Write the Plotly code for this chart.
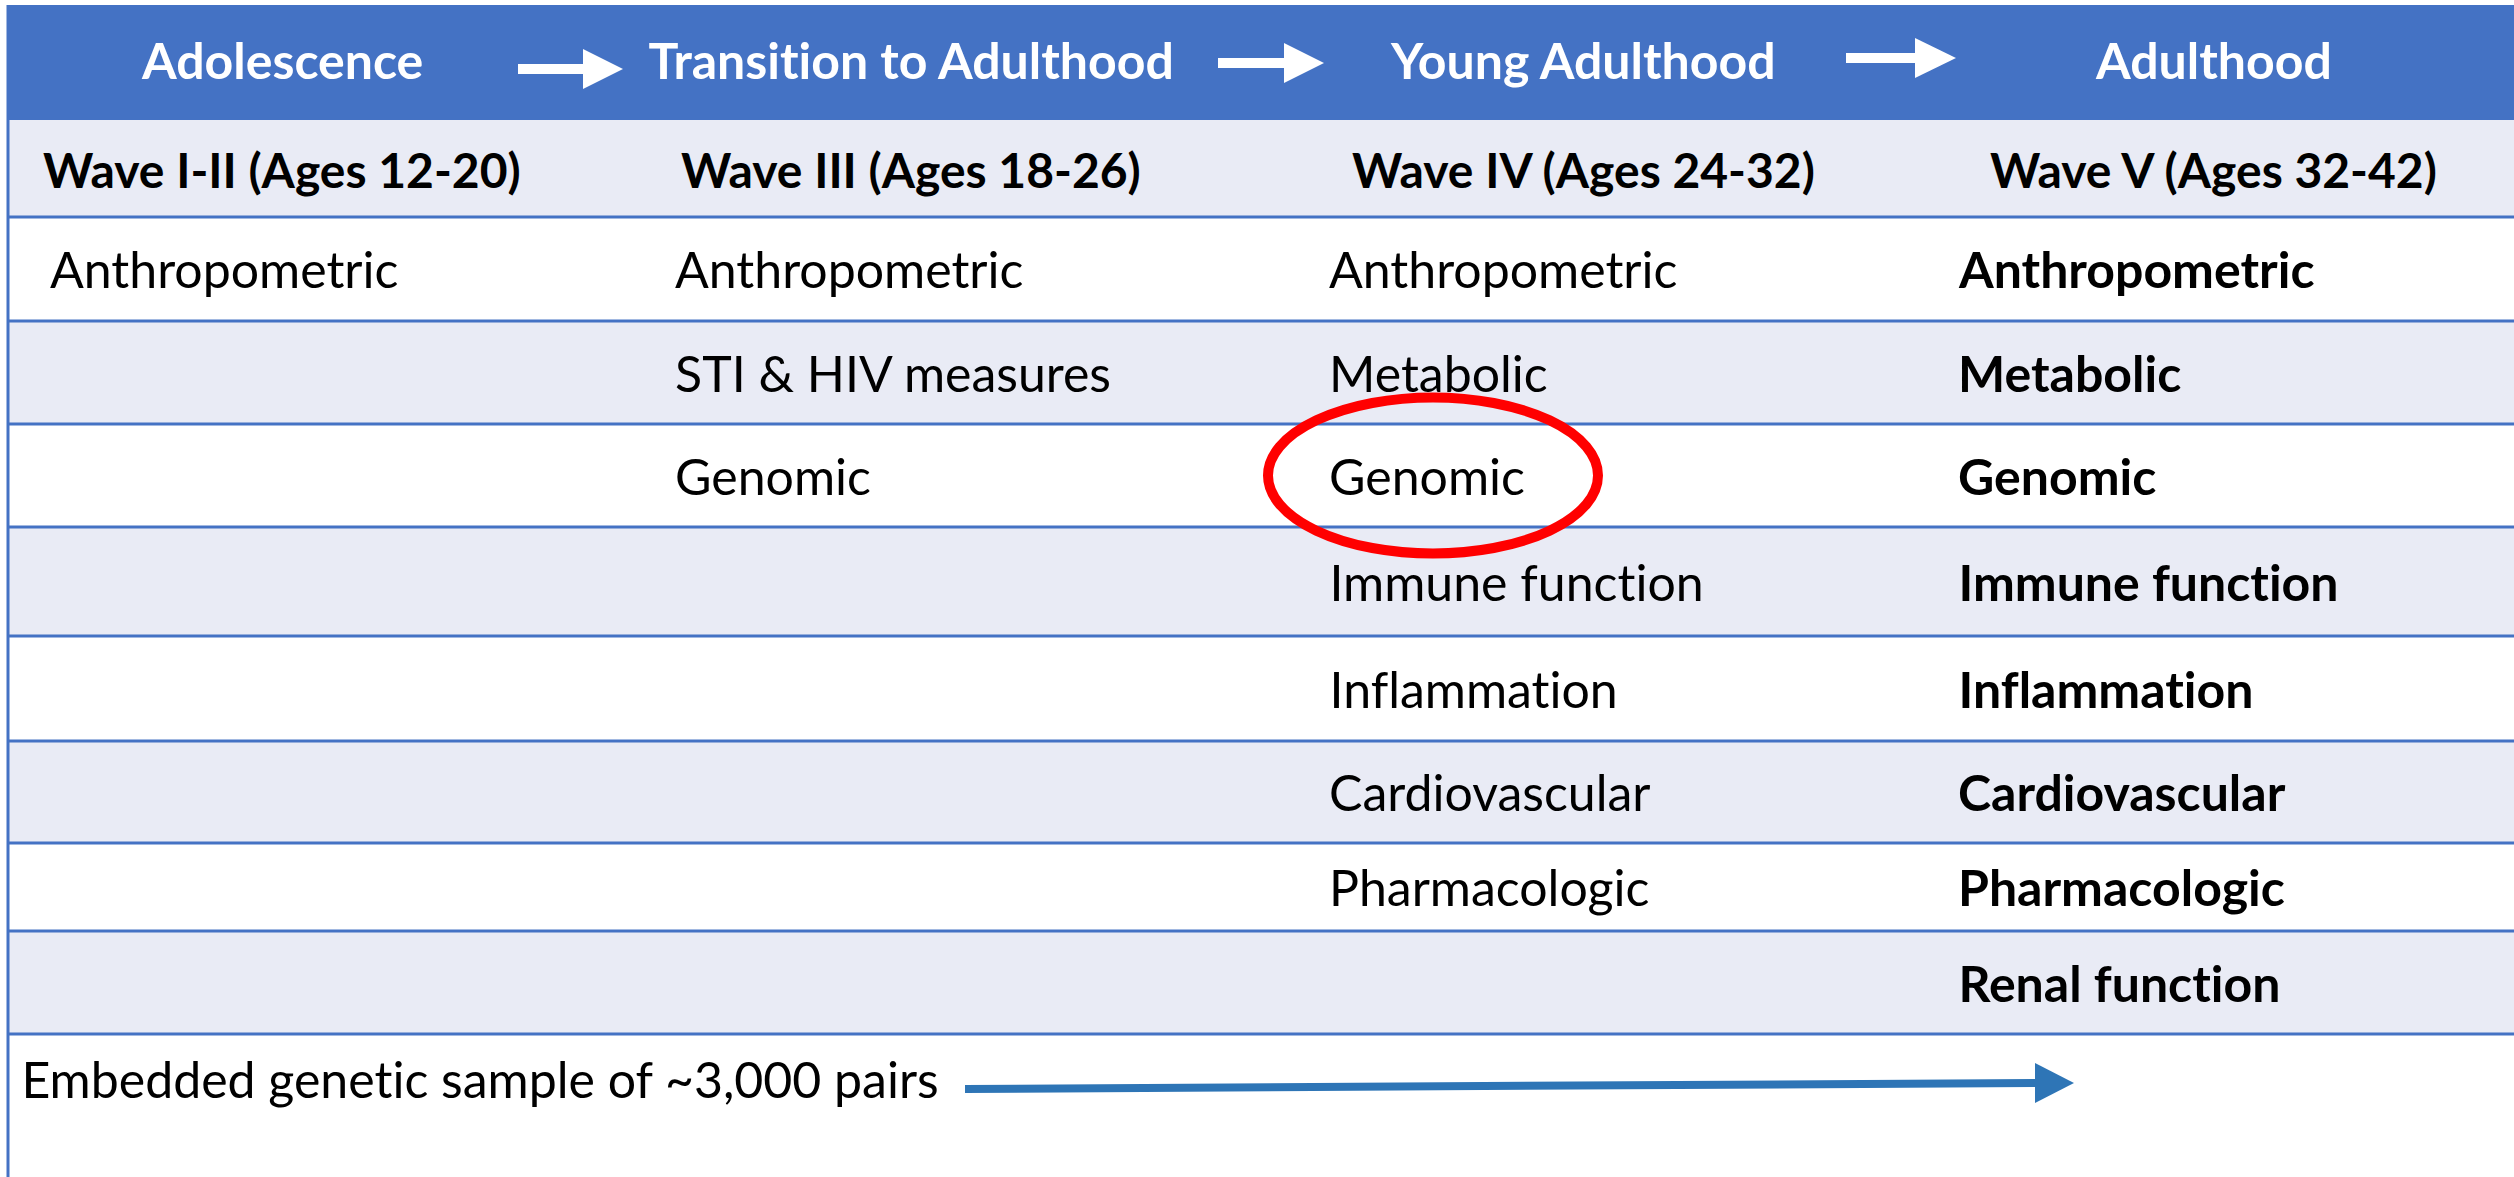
import plotly.graph_objects as go

# ---------------- data ----------------
stages = ["Adolescence", "Transition to Adulthood", "Young Adulthood", "Adulthood"]
waves = ["Wave I-II (Ages 12-20)", "Wave III (Ages 18-26)",
         "Wave IV (Ages 24-32)", "Wave V (Ages 32-42)"]
measures_wave1 = ["Anthropometric"]
measures_wave3 = ["Anthropometric", "STI & HIV measures", "Genomic"]
measures_wave4 = ["Anthropometric", "Metabolic", "Genomic", "Immune function",
                  "Inflammation", "Cardiovascular", "Pharmacologic"]
measures_wave5 = ["Anthropometric", "Metabolic", "Genomic", "Immune function",
                  "Inflammation", "Cardiovascular", "Pharmacologic", "Renal function"]
highlight = (2, "Genomic")  # column index, measure circled
footer_text = "Embedded genetic sample of ~3,000 pairs"

# ---------------- layout constants ----------------
W, H = 2514, 1177
FONT = "Lato"
BLUE = "#4472C4"
BAND = "#E9EBF5"
row_edges = [217, 321, 424, 527, 636, 741, 843, 931, 1034]
col_centers = [282, 911, 1583, 2213]
col_text_x = [48, 673, 1327, 1956]
col_bold = [False, False, False, True]
header_top, header_bot = 5, 120
left_x = 8

fig = go.Figure()
shapes = []
annotations = []

# header band
shapes.append(dict(type="rect", x0=left_x - 1, x1=W + 5, y0=header_top, y1=header_bot,
                   fillcolor=BLUE, line=dict(width=0), layer="below"))
# wave row band
shapes.append(dict(type="rect", x0=left_x, x1=W + 5, y0=header_bot, y1=row_edges[0],
                   fillcolor=BAND, line=dict(width=0), layer="below"))
# alternating bands
for i in range(len(row_edges) - 1):
    if i % 2 == 1:
        shapes.append(dict(type="rect", x0=left_x, x1=W + 5, y0=row_edges[i], y1=row_edges[i + 1],
                           fillcolor=BAND, line=dict(width=0), layer="below"))
# horizontal rules
for y in row_edges:
    shapes.append(dict(type="line", x0=left_x, x1=W + 5, y0=y, y1=y,
                       line=dict(color=BLUE, width=3)))
# left border
shapes.append(dict(type="line", x0=left_x, x1=left_x, y0=header_top, y1=H + 5,
                   line=dict(color=BLUE, width=3)))

# header arrows (white)
header_arrows = [(518, 583, 623, 69), (1218, 1284, 1324, 63), (1846, 1915, 1956, 58)]
for xs, xb, xt, yc in header_arrows:
    shapes.append(dict(type="rect", x0=xs, x1=xb + 2, y0=yc - 5, y1=yc + 5,
                       fillcolor="white", line=dict(width=0)))
    shapes.append(dict(type="path", path=f"M {xb},{yc-20} L {xt},{yc} L {xb},{yc+20} Z",
                       fillcolor="white", line=dict(width=0)))

# header text
for i, s in enumerate(stages):
    annotations.append(dict(x=col_centers[i], y=(header_top + header_bot) / 2 - 3, text=s,
                            showarrow=False, xanchor="center", yanchor="middle",
                            font=dict(family=FONT, size=50, color="white", weight="bold")))
# wave row
for i, w in enumerate(waves):
    annotations.append(dict(x=col_centers[i], y=(header_bot + row_edges[0]) / 2 + 1, text=w,
                            showarrow=False, xanchor="center", yanchor="middle",
                            font=dict(family=FONT, size=48, color="black", weight="bold")))

# measures
all_measures = [measures_wave1, measures_wave3, measures_wave4, measures_wave5]
for c, meas in enumerate(all_measures):
    for r, m in enumerate(meas):
        yc = (row_edges[r] + row_edges[r + 1]) / 2
        annotations.append(dict(x=col_text_x[c], y=yc, text=m.replace("&", "&amp;"),
                                showarrow=False, xanchor="left", yanchor="middle",
                                font=dict(family=FONT, size=50, color="black",
                                          weight="bold" if col_bold[c] else "normal")))

# highlight ellipse
hc, hm = highlight
hr = all_measures[hc].index(hm)
ey = (row_edges[hr] + row_edges[hr + 1]) / 2
shapes.append(dict(type="circle", x0=1268, x1=1598, y0=ey - 78, y1=ey + 78,
                   line=dict(color="#FF0000", width=10)))

# footer text and arrow
annotations.append(dict(x=19, y=1079, text=footer_text, showarrow=False,
                        xanchor="left", yanchor="middle",
                        font=dict(family=FONT, size=50, color="black")))
shapes.append(dict(type="line", x0=965, x1=2037, y0=1089, y1=1083,
                   line=dict(color="#2E75B6", width=8)))
shapes.append(dict(type="path", path="M 2035,1063 L 2074,1083 L 2035,1103 Z",
                   fillcolor="#2E75B6", line=dict(width=0)))

fig.update_layout(
    width=W, height=H,
    margin=dict(l=0, r=0, t=0, b=0),
    paper_bgcolor="white", plot_bgcolor="white",
    xaxis=dict(range=[0, W], visible=False, fixedrange=True),
    yaxis=dict(range=[H, 0], visible=False, fixedrange=True),
    shapes=shapes, annotations=annotations,
    showlegend=False,
)
fig.write_html(
    "out.html", config={"displayModeBar": False},
    post_script=("document.body.style.margin='0px';document.body.style.overflow='hidden';"
                 "var s=document.createElement('style');"
                 "s.textContent='text{font-variant-ligatures:none !important;}';"
                 "document.head.appendChild(s);"))
